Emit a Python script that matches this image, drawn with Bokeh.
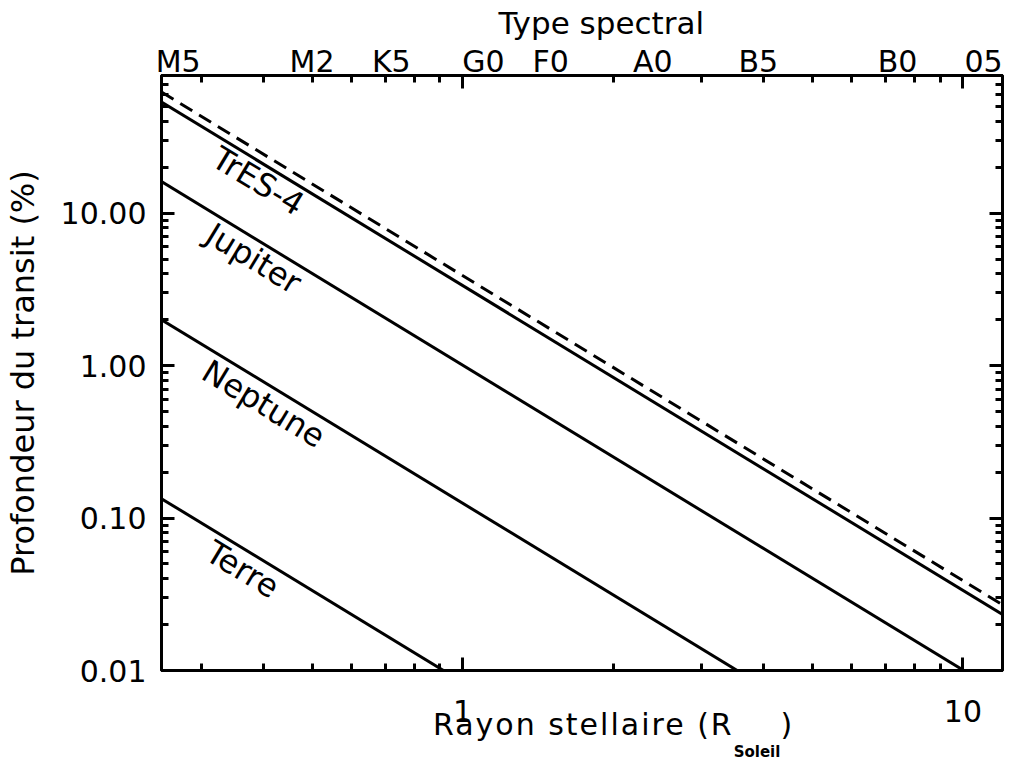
from bokeh.plotting import figure
from bokeh.models import (LogAxis, FixedTicker, PrintfTickFormatter, CustomJSTickFormatter,
                          ColumnDataSource, Title, Div)
from bokeh.layouts import column
from bokeh.core.properties import value
from bokeh.embed import file_html
from bokeh.resources import INLINE

FONT = "DejaVu Sans"

# ---- data (line endpoints: stellar radius, transit depth %) ----
radius_ends = [0.25, 12.0]
tres4_depth = [53.6, 0.0233]
tres4_max_depth = [62.3, 0.0270]     # dashed line
jupiter_depth = [16.1, 0.0070]
neptune_depth = [2.0, 0.00087]
terre_depth = [0.134, 0.0000582]

planet_names = ["TrES-4", "Jupiter", "Neptune", "Terre"]
name_x = [0.390, 0.382, 0.400, 0.363]
name_y = [16.2, 5.04, 0.562, 0.046]

spectral_types = ["M5", "M2", "K5", "G0", "F0", "A0", "B5", "B0", "05"]
spectral_radius = [0.27, 0.50, 0.72, 1.1, 1.5, 2.4, 3.9, 7.4, 11.0]

x_major = [1, 10]
y_major = [0.01, 0.1, 1, 10]

x_minor = [round(m * d, 3) for d in (0.1, 1) for m in range(2, 10) if 0.25 <= m * d <= 12]
y_minor = [round(m * d, 4) for d in (0.01, 0.1, 1, 10) for m in range(2, 10) if m * d <= 80]

p = figure(x_axis_type="log", y_axis_type="log", x_range=(0.25, 12), y_range=(0.01, 80),
           frame_width=841, frame_height=595,
           min_border_left=157, min_border_top=75, min_border_right=18, min_border_bottom=64,
           output_backend="svg", toolbar_location=None)
p.grid.visible = False
p.outline_line_color = "black"
p.outline_line_width = 3
p.background_fill_color = "white"
p.border_fill_color = "white"

def style_ticks(ax, label_size="30px"):
    ax.axis_line_width = 3
    ax.axis_line_color = "black"
    ax.major_tick_in = 13
    ax.major_tick_out = 0
    ax.minor_tick_in = 7
    ax.minor_tick_out = 0
    ax.major_tick_line_width = 3
    ax.minor_tick_line_width = 3
    ax.major_tick_line_color = "black"
    ax.minor_tick_line_color = "black"
    ax.major_label_text_font = FONT
    ax.major_label_text_font_size = label_size
    ax.major_label_text_color = "black"
    ax.axis_label_text_font = FONT
    ax.axis_label_text_font_size = "32px"
    ax.axis_label_text_font_style = "normal"
    ax.axis_label_text_color = "black"

xt = FixedTicker(ticks=x_major, minor_ticks=x_minor)
yt = FixedTicker(ticks=y_major, minor_ticks=y_minor)

bx = p.xaxis[0]
bx.ticker = xt
bx.formatter = PrintfTickFormatter(format="%g")
style_ticks(bx)
bx.major_label_standoff = 29

ly = p.yaxis[0]
ly.ticker = yt
ly.formatter = PrintfTickFormatter(format="%.2f")
style_ticks(ly)
ly.major_label_standoff = 15
ly.axis_label = "Profondeur du transit (%)"
ly.axis_label_standoff = 16

blank = CustomJSTickFormatter(code="return '';")

ry = LogAxis(ticker=yt, formatter=blank)
style_ticks(ry)
ry.major_label_standoff = 0
p.add_layout(ry, "right")

tx = LogAxis(ticker=xt, formatter=blank)
style_ticks(tx)
tx.major_label_standoff = 0
p.add_layout(tx, "above")

sx = LogAxis(ticker=FixedTicker(ticks=spectral_radius, minor_ticks=[]),
             major_label_overrides={r: s for r, s in zip(spectral_radius, spectral_types)})
style_ticks(sx)
sx.axis_line_color = None
sx.major_tick_in = 0
sx.minor_tick_in = 0
sx.major_tick_line_color = None
sx.minor_tick_line_color = None
sx.major_label_standoff = -3
p.add_layout(sx, "above")

p.add_layout(Title(text="Type spectral", align="left", offset=337, standoff=0,
                   text_font=FONT, text_font_size="31px", text_font_style="normal",
                   text_color="black"), "above")

# ---- lines ----
for depth in (tres4_depth, jupiter_depth, neptune_depth, terre_depth):
    p.line(radius_ends, depth, line_color="black", line_width=3)
p.line(radius_ends, tres4_max_depth, line_color="black", line_width=3, line_dash="14 8")

src = ColumnDataSource(dict(x=name_x, y=name_y, t=planet_names))
p.text(x="x", y="y", text="t", source=src, angle=-0.545, text_align="center",
       text_baseline="middle", text_font=value(FONT), text_font_size="32px", text_color="black")

# ---- bottom axis title with subscript (HTML) ----
xlabel_html = (
    '<span style="position:relative; top:-35px; margin-left:428px; white-space:nowrap; '
    'letter-spacing:2px; font-family:\'DejaVu Sans\'; font-size:30px; color:black;">'
    'Rayon stellaire (R<span style="font-size:15px; font-weight:bold; letter-spacing:0px; '
    'vertical-align:-22px;">Soleil</span>)</span>'
)
div = Div(text=xlabel_html, width=1016, height=33, styles={"overflow": "visible"})

layout = column(p, div, spacing=0)
open("out.html", "w").write(file_html(layout, INLINE))
